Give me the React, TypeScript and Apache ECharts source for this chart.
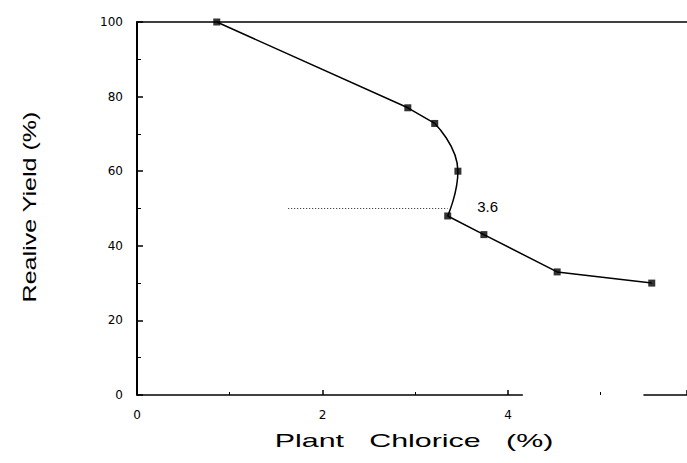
import React, { useEffect, useRef } from "react";
import * as echarts from "echarts";

// Data (x: plant chloride %, y: relative yield %)
const upperSegment: [number, number][] = [
  [0.86, 100],
  [2.92, 77],
  [3.21, 72.8],
];
const bendSegment: [number, number][] = [
  [3.21, 72.8],
  [3.46, 60],
  [3.35, 48],
];
const lowerSegment: [number, number][] = [
  [3.35, 48],
  [3.74, 43],
  [4.53, 33],
  [5.55, 30],
];
const allPoints: [number, number][] = [
  [0.86, 100],
  [2.92, 77],
  [3.21, 72.8],
  [3.46, 60],
  [3.35, 48],
  [3.74, 43],
  [4.53, 33],
  [5.55, 30],
];
const thresholdLine: [number, number][] = [
  [1.63, 50],
  [3.35, 50],
];
const thresholdLabel = "3.6";
const thresholdLabelPos: [number, number] = [3.78, 50.6];
const xAxisSegments: [number, number][][] = [
  [
    [0, 0],
    [4.16, 0],
  ],
  [
    [5.46, 0],
    [5.93, 0],
  ],
];
const xMin = 0;
const xMax = 5.93;
const yMin = 0;
const yMax = 100;
const xTitle = "Plant   Chlorice   (%)";
const yTitle = "Realive Yield (%)";

export default function App() {
  const ref = useRef<HTMLDivElement>(null);
  useEffect(() => {
    document.body.style.margin = "0";
    if (!ref.current) return;
    const chart = echarts.init(ref.current, undefined, { renderer: "svg" });
    const font = "Liberation Sans";
    const lineStyle = { color: "#000", width: 1.5 };
    chart.setOption({
      animation: false,
      backgroundColor: "#fff",
      grid: { left: 137, right: 0, top: 22, bottom: 68, containLabel: false },
      xAxis: [
        {
          type: "value",
          min: xMin,
          max: xMax,
          interval: 2,
          axisLine: { show: false },
          axisTick: { show: true, inside: true, length: 5, lineStyle: { color: "#000", width: 1.5 } },
          minorTick: { show: true, splitNumber: 2, length: 3, lineStyle: { color: "#000", width: 1 } },
          axisLabel: {
            color: "#000",
            fontSize: 12,
            fontFamily: "DejaVu Sans",
            margin: 14,
            showMaxLabel: false,
          },
          splitLine: { show: false },
          minorSplitLine: { show: false },
        },
        {
          type: "value",
          position: "top",
          min: xMin,
          max: xMax,
          axisLine: { show: true, lineStyle: { color: "#000", width: 1.5 } },
          axisTick: { show: false },
          axisLabel: { show: false },
          splitLine: { show: false },
        },
      ],
      yAxis: {
        type: "value",
        min: yMin,
        max: yMax,
        interval: 20,
        axisLine: { show: true, lineStyle: { color: "#000", width: 2 } },
        axisTick: { show: true, inside: true, length: 6, lineStyle: { color: "#000", width: 1.5 } },
        minorTick: { show: true, splitNumber: 2, length: 4, lineStyle: { color: "#000", width: 1 } },
        axisLabel: { color: "#000", fontSize: 12, fontFamily: "DejaVu Sans", margin: 14 },
        splitLine: { show: false },
      },
      graphic: [
        {
          type: "text",
          x: 414,
          y: 440,
          scaleX: 1.6,
          style: {
            text: xTitle,
            fontSize: 19,
            fontFamily: font,
            fill: "#000",
            align: "center",
            verticalAlign: "middle",
          },
        },
        {
          type: "text",
          x: 30,
          y: 207,
          rotation: Math.PI / 2,
          scaleX: 1.32,
          style: {
            text: yTitle,
            fontSize: 19,
            fontFamily: font,
            fill: "#000",
            align: "center",
            verticalAlign: "middle",
          },
        },
      ],
      series: [
        ...xAxisSegments.map((seg) => ({
          type: "line",
          data: seg,
          symbol: "none",
          clip: false,
          lineStyle: { color: "#000", width: 1.5 },
          silent: true,
        })),
        {
          type: "line",
          data: thresholdLine,
          symbol: "none",
          lineStyle: { color: "#222", width: 1, type: [1, 2] },
          markPoint: {
            symbol: "circle",
            symbolSize: 0,
            data: [{ coord: thresholdLabelPos, value: thresholdLabel }],
            label: {
              show: true,
              formatter: thresholdLabel,
              color: "#000",
              fontSize: 15,
              fontFamily: font,
            },
          },
        },
        { type: "line", data: upperSegment, symbol: "none", lineStyle },
        { type: "line", data: bendSegment, symbol: "none", smooth: 0.5, lineStyle },
        { type: "line", data: lowerSegment, symbol: "none", lineStyle },
        {
          type: "scatter",
          data: allPoints,
          symbol: "rect",
          symbolSize: 7,
          itemStyle: { color: "#000" },
        },
      ],
    });
    return () => chart.dispose();
  }, []);
  return (
    <div
      ref={ref}
      style={{ position: "absolute", left: 0, top: 0, width: 687, height: 463 }}
    />
  );
}
